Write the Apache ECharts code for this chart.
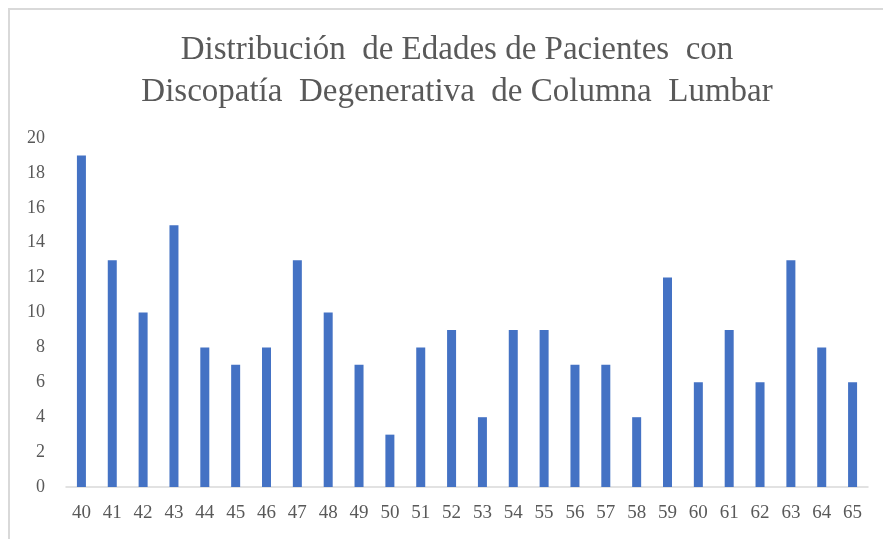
<!DOCTYPE html>
<html>
<head>
<meta charset="utf-8">
<script src="https://cdn.jsdelivr.net/npm/echarts@6/dist/echarts.min.js"></script>
<style>
  html, body { margin: 0; padding: 0; background: #fff; }
  #chart { width: 883px; height: 539px; }
</style>
</head>
<body>
<div id="chart"></div>
<script>
// edades y número de pacientes
const edades = ['40', '41', '42', '43', '44', '45', '46', '47', '48', '49', '50', '51', '52',
  '53', '54', '55', '56', '57', '58', '59', '60', '61', '62', '63', '64', '65']
const pacientes = [19, 13, 10, 15, 8, 7, 8, 13, 10, 7, 3, 8, 9, 4, 9, 9, 7, 7, 4, 12, 6, 9, 6, 13, 8, 6]
const tituloLineas = ['Distribución  de Edades de Pacientes  con', 'Discopatía  Degenerativa  de Columna  Lumbar']

const chart = echarts.init(document.getElementById('chart'))
const fuente = '"Liberation Serif", "Times New Roman", serif'

chart.setOption({
  animation: false,
  title: {
    text: tituloLineas.join('\n'),
    left: 452,
    textAlign: 'center',
    top: 24,
    textStyle: {
      fontFamily: fuente,
      fontWeight: 'normal',
      fontSize: 33,
      lineHeight: 42,
      color: '#595959'
    }
  },
  // marco del gráfico
  graphic: [{
    type: 'polyline',
    shape: { points: [[9, 539], [9, 9], [883, 9]] },
    style: { stroke: '#d9d9d9', lineWidth: 2, fill: null }
  }],
  grid: {
    left: 66,
    right: 15,
    top: 138,
    bottom: 52
  },
  xAxis: {
    type: 'category',
    data: edades,
    axisLine: { lineStyle: { color: '#d9d9d9', width: 1.5 } },
    axisTick: { show: false },
    axisLabel: {
      interval: 0,
      margin: 17,
      fontFamily: fuente,
      fontSize: 19,
      color: '#595959'
    }
  },
  yAxis: {
    type: 'value',
    min: 0,
    max: 20,
    interval: 2,
    axisLine: { show: false },
    axisTick: { show: false },
    splitLine: { show: false },
    axisLabel: {
      margin: 21,
      fontFamily: fuente,
      fontSize: 18,
      color: '#595959'
    }
  },
  series: [{
    name: 'Pacientes',
    type: 'bar',
    data: pacientes,
    barWidth: 9,
    itemStyle: { color: '#4472C4' }
  }]
})
</script>
</body>
</html>
